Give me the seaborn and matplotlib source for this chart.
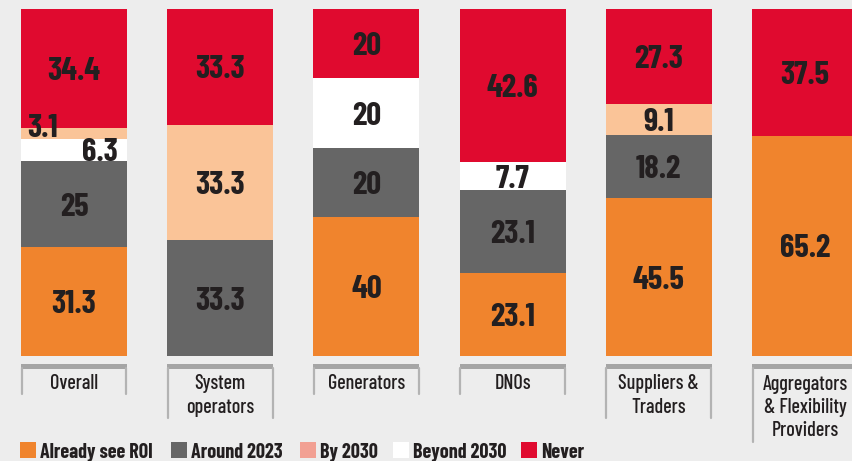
import numpy as np
import pandas as pd
import matplotlib
matplotlib.use("Agg")
import matplotlib.pyplot as plt
import seaborn as sns
from matplotlib.patches import Rectangle
from matplotlib.lines import Line2D
from matplotlib.transforms import blended_transform_factory

# ---- data ----
categories = ["Overall", "System\noperators", "Generators", "DNOs",
              "Suppliers &\nTraders", "Aggregators\n& Flexibility\nProviders"]
layers = ["Already see ROI", "Around 2023", "Beyond 2030", "By 2030", "Never"]  # bottom -> top
already_see_roi = [31.3, 0, 40, 23.1, 45.5, 65.2]
around_2023     = [25, 33.3, 20, 23.1, 18.2, 0]
beyond_2030     = [6.3, 0, 20, 7.7, 0, 0]
by_2030         = [3.1, 33.3, 0, 0, 9.1, 0]
never           = [34.4, 33.3, 20, 42.6, 27.3, 37.5]
legend_order = ["Already see ROI", "Around 2023", "By 2030", "Beyond 2030", "Never"]

bar_colors = {"Already see ROI": "#f0842d", "Around 2023": "#666666",
              "Beyond 2030": "#ffffff", "By 2030": "#fac498", "Never": "#e00a2f"}
legend_colors = {"Already see ROI": "#f0842d", "Around 2023": "#666666",
                 "By 2030": "#f2a093", "Beyond 2030": "#ffffff", "Never": "#e00a2f"}
BG = "#ededed"
TXT = "#231f20"
FONT = ["Barlow Condensed", "DejaVu Sans"]

sns.set_theme(style="white")
plt.rcParams["font.family"] = FONT

W, H = 852, 461
fig = plt.figure(figsize=(W / 100, H / 100), dpi=100)
fig.patch.set_facecolor(BG)
ax = fig.add_axes([0, 105 / H, 1, 347 / H])
ax.set_facecolor(BG)

series = {"Already see ROI": already_see_roi, "Around 2023": around_2023,
          "Beyond 2030": beyond_2030, "By 2030": by_2030, "Never": never}
vals = pd.DataFrame(series, index=categories)[layers]
norm = vals.div(vals.sum(axis=1), axis=0) * 100  # 100% stacked
cum = norm.cumsum(axis=1)

bar_w = 0.726
# draw cumulative layers top-first so lower layers overlay
for layer in reversed(layers):
    df = pd.DataFrame({"cat": categories, "val": cum[layer].values})
    sns.barplot(data=df, x="cat", y="val", order=categories, color=bar_colors[layer],
                saturation=1, width=bar_w, linewidth=0, edgecolor="none", ax=ax)

ax.set_xlim(-74 / 146.2, (W - 74) / 146.2)
ax.set_ylim(0, 100)
ax.axis("off")

# value labels
special = {(0, "By 2030"): ("left", 2.2), (0, "Beyond 2030"): ("right", 0.0)}
for i, cat in enumerate(categories):
    for layer in layers:
        v = vals.loc[cat, layer]
        if v <= 0:
            continue
        yc = cum.loc[cat, layer] - norm.loc[cat, layer] / 2
        txt = f"{v:g}"
        ha, dy = special.get((i, layer), ("center", 0.0))
        if ha == "left":
            x = i - bar_w / 2 + 0.045
        elif ha == "right":
            x = i + bar_w / 2 - 0.065
        else:
            x = i
        ax.text(x, yc + dy, txt, ha=ha, va="center_baseline", fontsize=23.5, fontweight="bold",
                color=TXT)

# category label boxes
trans = blended_transform_factory(ax.transData, fig.transFigure)
def fy(py):
    return 1 - py / H

for i, cat in enumerate(categories):
    nlines = cat.count("\n") + 1
    x0, x1 = i - bar_w / 2, i + bar_w / 2
    bottom = 394 + 24 * (nlines - 1)
    fig.add_artist(Rectangle((x0, fy(368.5)), bar_w, (368.5 - 363.5) / H, transform=trans,
                             facecolor="#a5a5a5", edgecolor="none", clip_on=False))
    for xx in (x0 + 0.004, x1 - 0.004):
        fig.add_artist(Line2D([xx, xx], [fy(368), fy(bottom)], transform=trans,
                              color="#b3b3b3", linewidth=1.6, clip_on=False))
    ax.text(i, fy(383.5 + 12 * (nlines - 1)), cat, transform=trans, ha="center", va="center",
            fontsize=14.5, fontweight="medium", color=TXT, linespacing=1.3)

# legend (items placed at the reference's positions)
leg_x = [20, 171, 300, 393, 521]
for lx, name in zip(leg_x, legend_order):
    fig.add_artist(Rectangle((lx / W, fy(458)), 16 / W, 16 / H, transform=fig.transFigure,
                             facecolor=legend_colors[name], edgecolor="none"))
    fig.text((lx + 20) / W, fy(450.5), name, ha="left", va="center_baseline", fontsize=14.5,
             fontweight="bold", color=TXT)

fig.savefig("out.png", dpi=100, facecolor=BG)
